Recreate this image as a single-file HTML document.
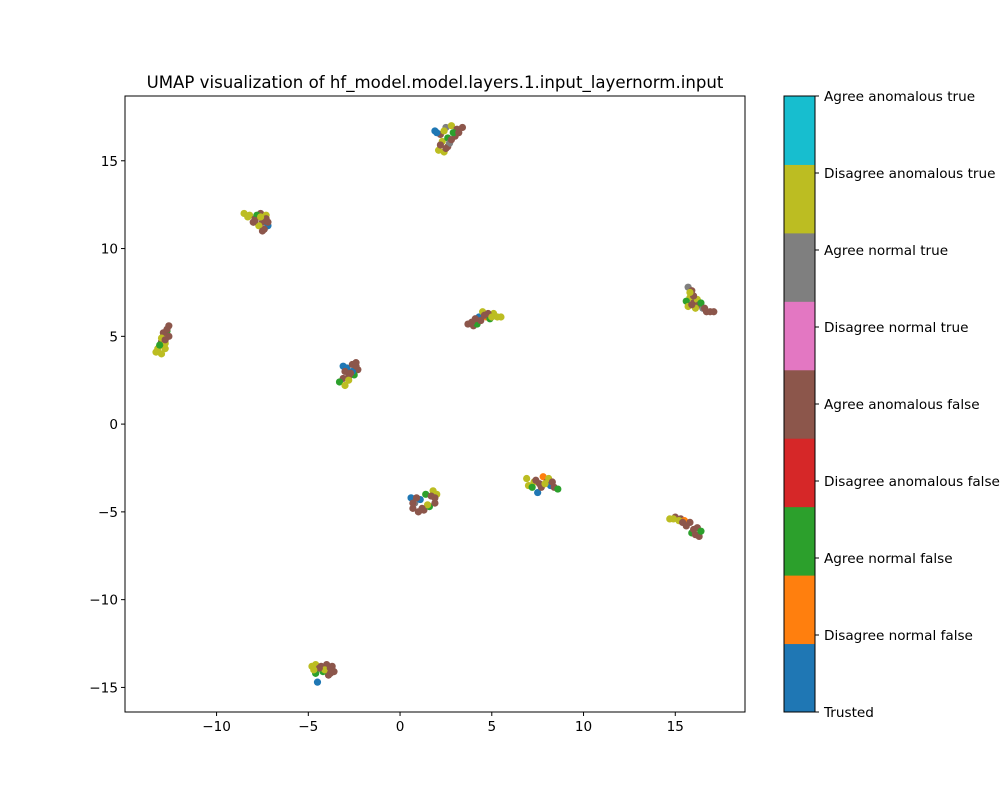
<!DOCTYPE html>
<html><head><meta charset="utf-8"><style>
body{margin:0;background:#fff;}
svg{display:block;font-family:"DejaVu Sans","Liberation Sans",sans-serif;}
</style></head><body>
<svg id="chart" width="1000" height="800" viewBox="0 0 1000 800">
<rect width="1000" height="800" fill="#fff"/>
<text x="435" y="88" text-anchor="middle" font-size="16.6">UMAP visualization of hf_model.model.layers.1.input_layernorm.input</text>
<g id="points"></g>
<rect x="125" y="96" width="620" height="616" fill="none" stroke="#000" stroke-width="1"/>
<g id="xaxis"></g>
<g id="yaxis"></g>
<g id="cbar"></g>
</svg>
<script>
const categories=["Trusted","Disagree normal false","Agree normal false","Disagree anomalous false","Agree anomalous false","Disagree normal true","Agree normal true","Disagree anomalous true","Agree anomalous true"];
const catColors=["#1f77b4","#ff7f0e","#2ca02c","#d62728","#8c564b","#e377c2","#7f7f7f","#bcbd22","#17becf"];
const xTicks=[-10,-5,0,5,10,15];
const yTicks=[-15,-10,-5,0,5,10,15];
const xVals=[1.9,2.2,2.5,2.8,3.1,3.4,2.3,2.6,3.0,2.1,2.4,2.6,2.9,2.2,2.7,2.0,2.4,3.2,2.8,2.5,
-8.5,-8.2,-7.9,-7.6,-7.3,-7.5,-7.2,-7.4,-7.7,-8.0,-7.8,-7.3,-7.5,-8.3,-7.9,-7.6,-7.2,
-12.6,-12.7,-12.9,-12.6,-13.0,-12.8,-13.2,-13.3,-13.0,-12.8,-12.9,-13.1,-12.7,-13.0,-12.8,
-3.1,-2.9,-2.6,-2.4,-2.3,-2.5,-2.8,-3.1,-3.3,-3.0,-2.6,-2.8,-2.7,-3.0,-2.4,
3.7,4.0,4.2,4.3,4.5,4.7,4.9,5.1,5.3,5.5,4.4,4.8,4.1,4.6,5.0,3.9,
15.7,15.9,15.8,15.6,15.7,16.0,16.2,16.3,16.5,16.7,16.9,17.1,16.1,16.4,15.9,16.0,16.6,15.8,
0.6,0.8,0.7,1.0,1.3,1.6,1.9,2.0,1.8,1.4,1.1,0.9,1.5,1.7,1.2,0.7,1.9,
6.9,7.0,7.3,7.5,7.7,7.8,8.0,8.2,8.4,8.6,7.4,8.1,7.2,7.6,7.9,8.3,
14.7,15.0,15.3,15.5,15.8,15.9,16.1,16.3,16.2,16.4,15.6,15.2,15.4,16.0,14.9,
-4.8,-4.6,-4.3,-4.0,-3.7,-3.6,-3.9,-4.2,-4.6,-4.5,-4.1,-3.8,-4.4,-4.7,-3.8];
const yVals=[16.7,16.5,16.9,17.0,16.8,16.9,16.1,16.3,16.4,15.6,15.5,15.8,16.6,15.9,16.0,16.6,16.7,16.6,16.2,15.7,
12.0,11.9,11.7,12.0,11.9,11.5,11.3,11.1,11.3,11.5,11.9,11.7,11.0,11.8,11.6,11.8,11.5,
5.6,5.3,5.0,5.0,4.7,4.6,4.3,4.1,4.0,4.3,5.2,4.5,5.4,4.9,4.8,
3.3,3.2,3.4,3.5,3.1,2.8,2.7,2.6,2.4,2.2,3.0,2.5,2.9,3.0,3.3,
5.7,5.6,5.7,6.1,6.4,6.1,6.0,6.3,6.1,6.1,5.9,6.3,6.0,6.2,6.1,5.8,
7.8,7.6,7.2,7.0,6.7,6.9,7.1,6.8,6.6,6.4,6.4,6.4,6.6,6.9,6.8,7.3,6.6,7.5,
-4.2,-4.5,-4.8,-5.0,-4.9,-4.7,-4.5,-4.0,-3.8,-4.0,-4.3,-4.2,-4.6,-4.1,-4.8,-4.5,-4.2,
-3.1,-3.5,-3.3,-3.9,-3.6,-3.0,-3.3,-3.5,-3.6,-3.7,-3.2,-3.1,-3.6,-3.4,-3.4,-3.3,
-5.4,-5.3,-5.4,-5.5,-5.6,-6.2,-6.3,-6.4,-5.9,-6.1,-5.8,-5.5,-5.6,-6.0,-5.4,
-13.8,-13.7,-13.8,-13.7,-13.8,-14.1,-14.3,-14.1,-14.2,-14.7,-14.0,-14.2,-13.9,-14.0,-13.9];
const catVals=[0,4,6,7,4,4,7,2,4,7,7,4,2,4,6,0,7,4,4,4,
7,7,4,4,7,4,0,4,7,4,2,4,4,7,4,7,4,
4,2,7,4,4,7,7,7,7,7,4,2,4,7,4,
0,0,4,4,4,2,4,4,2,7,0,7,4,4,4,
4,4,2,0,7,1,2,7,7,7,4,4,4,4,7,4,
6,4,7,2,7,4,7,4,6,4,4,4,7,2,4,4,4,7,
0,6,4,4,4,2,4,7,7,2,0,4,7,4,4,4,4,
7,7,7,0,4,1,4,0,4,2,4,7,2,4,7,4,
7,4,4,1,4,2,4,4,4,2,4,7,4,4,7,
7,7,4,4,4,4,4,2,2,0,7,4,4,7,4];
const NS="http://www.w3.org/2000/svg";
const X0=125,X1=745,Y0=96,Y1=712,xmin=-14.99,xmax=18.8,ymin=-16.4,ymax=18.69;
const sx=v=>X0+(v-xmin)/(xmax-xmin)*(X1-X0);
const sy=v=>Y1-(v-ymin)/(ymax-ymin)*(Y1-Y0);
function mk(tag,attrs,parent){const e=document.createElementNS(NS,tag);for(const k in attrs)e.setAttribute(k,attrs[k]);parent.appendChild(e);return e;}
const pg=document.getElementById('points');
for(let i=0;i<xVals.length;i++){
 const c=mk('circle',{cx:sx(xVals[i]),cy:sy(yVals[i]),r:3.6,fill:catColors[catVals[i]]},pg);
 
 
}
const xg=document.getElementById('xaxis');
xTicks.forEach(t=>{const x=sx(t);
 const l=mk('line',{x1:x,x2:x,y1:Y1,y2:Y1+4,stroke:'#000'},xg);
 
 
 const tx=mk('text',{x:x,y:Y1+19,'text-anchor':'middle','font-size':13.6},xg);
 tx.textContent=(t<0?'\u2212'+(-t):t);
 
 
});
const yg=document.getElementById('yaxis');
yTicks.forEach(t=>{const y=sy(t);
 const l=mk('line',{x1:X0-4,x2:X0,y1:y,y2:y,stroke:'#000'},yg);
 
 
 const tx=mk('text',{x:X0-7,y:y+5,'text-anchor':'end','font-size':13.6},yg);
 tx.textContent=(t<0?'\u2212'+(-t):t);
 
 
});
const cg=document.getElementById('cbar');
const CB0=96,CB1=712,CX=784,CW=31,seg=(CB1-CB0)/categories.length,tstep=(CB1-CB0)/(categories.length-1);
categories.forEach((c,i)=>{
 const r=mk('rect',{x:CX,y:CB1-(i+1)*seg,width:CW,height:seg+0.5,fill:catColors[i]},cg);
 
 
});
categories.forEach((c,i)=>{
 const y=CB1-i*tstep;
 mk('line',{x1:CX+CW,x2:CX+CW+4,y1:y,y2:y,stroke:'#000'},cg);
 const tx=mk('text',{x:CX+CW+9,y:y+5,'font-size':13.6},cg);
 tx.textContent=c;
 
 
});
mk('rect',{x:CX,y:CB0,width:CW,height:CB1-CB0,fill:'none',stroke:'#000'},cg);
</script>
</body></html>
